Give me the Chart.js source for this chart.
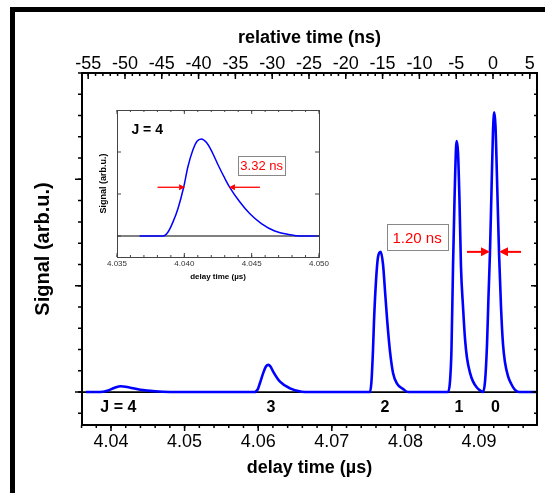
<!DOCTYPE html>
<html>
<head>
<meta charset="utf-8">
<script src="https://cdn.jsdelivr.net/npm/chart.js@4"></script>
<style>
  html, body { margin: 0; padding: 0; background: #fff; }
  #wrap { position: relative; width: 545px; height: 493px; overflow: hidden; }
  #frame { position: absolute; left: 10px; top: 7px; width: 600px; height: 600px;
           border-left: 5px solid #000; border-top: 5px solid #000; }
  #main { position: absolute; left: 0; top: 0; }
  #inset { position: absolute; left: 90px; top: 100px; }
</style>
</head>
<body>
<div id="wrap">
  <div id="frame"></div>
  <canvas id="main" width="545" height="493"></canvas>
  <canvas id="inset" width="240" height="185"></canvas>
</div>
<script>
// data
// main trace: delay time (µs) and signal (arb.u.)
const delayTime = [
  4.0366, 4.0385, 4.0395, 4.0405, 4.0413, 4.0425, 4.0440, 4.0460, 4.0480, 4.0500,
  4.0595, 4.05997, 4.06024, 4.06069, 4.06105, 4.06137, 4.06167, 4.06205, 4.06296, 4.06432, 4.06591, 4.0670,
  4.07519, 4.07539, 4.07560, 4.07573, 4.07601, 4.07628, 4.07664, 4.07696, 4.07723, 4.07754, 4.07791, 4.07832, 4.07886, 4.07967, 4.08035,
  4.08579, 4.08606, 4.08626, 4.08647, 4.08667, 4.08688, 4.08697, 4.08715, 4.08735, 4.08755, 4.08783, 4.08810, 4.08837, 4.08878, 4.08918, 4.08973, 4.09027,
  4.09054, 4.09082, 4.09109, 4.09129, 4.09149, 4.09170, 4.09190, 4.09208, 4.09224, 4.09245, 4.09272, 4.09299, 4.09326, 4.09353, 4.09394, 4.09435, 4.09489, 4.09543,
  4.0979
];
const signal = [
  0, 0, 0.012, 0.04, 0.055, 0.043, 0.022, 0.008, 0.001, 0,
  0, 0.03, 0.085, 0.18, 0.24, 0.255, 0.24, 0.19, 0.097, 0.035, 0.003, 0,
  0, 0.1, 0.4, 0.66, 1.05, 1.27, 1.318, 1.2, 0.95, 0.66, 0.38, 0.18, 0.08, 0.03, 0,
  0, 0.1, 0.4, 1.18, 1.8, 2.3, 2.36, 2.25, 1.8, 1.18, 0.8, 0.5, 0.32, 0.18, 0.1, 0.04, 0.01,
  0, 0.1, 0.45, 0.9, 1.31, 1.9, 2.45, 2.63, 2.5, 2.0, 1.31, 0.8, 0.45, 0.28, 0.15, 0.08, 0.02, 0,
  0
];
// inset: J = 4 peak
const insetTime = [4.03668, 4.03842, 4.03879, 4.03916, 4.03953, 4.03995, 4.04027, 4.04064, 4.04094, 4.04126, 4.04163,
  4.04200, 4.04250, 4.04300, 4.04337, 4.04411, 4.04485, 4.04572, 4.04671, 4.04782, 4.04857, 4.0500];
const insetSignal = [0, 0, 0.096, 0.336, 0.656, 1.16, 1.656, 2.056, 2.256, 2.312, 2.232,
  2.04, 1.696, 1.376, 1.16, 0.816, 0.536, 0.296, 0.12, 0.032, 0, 0];

// ticks and labels
const delayTicks = [4.04, 4.05, 4.06, 4.07, 4.08, 4.09];
const relTicks = [-55, -50, -45, -40, -35, -30, -25, -20, -15, -10, -5, 0, 5];
const insetTicks = [4.035, 4.040, 4.045, 4.050];
const peakNames = ['J = 4', '3', '2', '1', '0'];
const peakNameTime = [4.0410, 4.06174, 4.07723, 4.08728, 4.09224];
const fwhmMain = '1.20 ns';
const fwhmInset = '3.32 ns';

// axis ranges
const T0 = 4.0919;          // delay time at relative time 0
const X_MIN = 4.03606, X_MAX = 4.09788;
const FONT = "'Liberation Sans', Arial, sans-serif";

function steps(a, b, s) {
  const out = [];
  for (let v = a; v <= b + s / 1000; v += s) out.push(+v.toFixed(6));
  return out;
}

// draws tick marks along one edge
function tickMarks(ctx, scale, values, len, edge, dir) {
  ctx.beginPath();
  values.forEach(v => {
    const p = scale.getPixelForValue(v);
    if (scale.isHorizontal()) { ctx.moveTo(p, edge); ctx.lineTo(p, edge + dir * len); }
    else { ctx.moveTo(edge, p); ctx.lineTo(edge + dir * len, p); }
  });
  ctx.stroke();
}

function arrow(ctx, x1, x2, y, head, half, width) {
  const d = x2 > x1 ? 1 : -1;
  ctx.strokeStyle = '#ff0000';
  ctx.fillStyle = '#ff0000';
  ctx.lineWidth = width;
  ctx.beginPath();
  ctx.moveTo(x1, y);
  ctx.lineTo(x2 - d * head, y);
  ctx.stroke();
  ctx.beginPath();
  ctx.moveTo(x2, y);
  ctx.lineTo(x2 - d * head, y - half);
  ctx.lineTo(x2 - d * head, y + half);
  ctx.closePath();
  ctx.fill();
}

function boxLabel(ctx, text, cx, cy, w, h, size) {
  ctx.fillStyle = '#fff';
  ctx.fillRect(cx - w / 2, cy - h / 2, w, h);
  ctx.strokeStyle = '#888';
  ctx.lineWidth = 1;
  ctx.strokeRect(Math.round(cx - w / 2) + 0.5, Math.round(cy - h / 2) + 0.5, w, h);
  ctx.fillStyle = '#ff0000';
  ctx.font = size + 'px ' + FONT;
  ctx.textAlign = 'center';
  ctx.textBaseline = 'middle';
  ctx.fillText(text, cx, cy + 1);
}

const mainDecor = {
  id: 'mainDecor',
  afterDraw(chart) {
    const ctx = chart.ctx, a = chart.chartArea;
    const x = chart.scales.x, xt = chart.scales.xTop, y = chart.scales.y;
    ctx.save();
    ctx.strokeStyle = '#000';
    ctx.lineWidth = 2;
    ctx.beginPath();
    ctx.moveTo(a.right, a.top - 1);
    ctx.lineTo(a.right, a.bottom + 1);
    ctx.stroke();
    ctx.lineWidth = 1.5;
    tickMarks(ctx, x, delayTicks, 6, a.bottom, 1);
    tickMarks(ctx, x, steps(4.036, 4.096, 0.002), 3, a.bottom, 1);
    tickMarks(ctx, xt, relTicks, 6, a.top, 1);
    tickMarks(ctx, xt, steps(-55, 5, 1), 3, a.top, 1);
    tickMarks(ctx, y, [0, 1, 2], 7, a.left, -1);
    tickMarks(ctx, y, steps(-0.2, 3, 0.2), 4, a.left, -1);
    tickMarks(ctx, y, [0, 1, 2], 6, a.right, -1);
    tickMarks(ctx, y, steps(-0.2, 3, 0.2), 3, a.right, -1);

    // peak names
    ctx.fillStyle = '#000';
    ctx.font = 'bold 16px ' + FONT;
    ctx.textAlign = 'center';
    ctx.textBaseline = 'middle';
    peakNames.forEach((n, i) => ctx.fillText(n, x.getPixelForValue(peakNameTime[i]), y.getPixelForValue(-0.151)));

    // FWHM of J = 0
    boxLabel(ctx, fwhmMain, x.getPixelForValue(4.08158), y.getPixelForValue(1.454), 61, 26, 15);
    const ya = y.getPixelForValue(1.318);
    arrow(ctx, x.getPixelForValue(4.08837), x.getPixelForValue(4.09149), ya, 9, 4.5, 2);
    arrow(ctx, x.getPixelForValue(4.09571), x.getPixelForValue(4.09272), ya, 9, 4.5, 2);
    ctx.restore();
  }
};

const insetDecor = {
  id: 'insetDecor',
  afterDraw(chart) {
    const ctx = chart.ctx, a = chart.chartArea;
    const x = chart.scales.x, y = chart.scales.y;
    ctx.save();
    ctx.strokeStyle = '#444';
    ctx.lineWidth = 1;
    ctx.beginPath();
    ctx.moveTo(a.left, Math.round(a.top) + 0.5);
    ctx.lineTo(a.right, Math.round(a.top) + 0.5);
    ctx.moveTo(Math.round(a.right) + 0.5, a.top);
    ctx.lineTo(Math.round(a.right) + 0.5, a.bottom);
    ctx.stroke();
    tickMarks(ctx, x, insetTicks, 4, a.top, 1);
    tickMarks(ctx, x, steps(4.035, 4.050, 0.001), 2, a.top, 1);
    tickMarks(ctx, x, insetTicks, 4, a.bottom, -1);
    tickMarks(ctx, x, steps(4.035, 4.050, 0.001), 2, a.bottom, -1);
    tickMarks(ctx, y, [0, 1, 2], 4, a.left, 1);
    tickMarks(ctx, y, [0, 1, 2], 4, a.right, -1);

    ctx.fillStyle = '#000';
    ctx.font = 'bold 14px ' + FONT;
    ctx.textAlign = 'center';
    ctx.textBaseline = 'middle';
    ctx.fillText('J = 4', x.getPixelForValue(4.03724), y.getPixelForValue(2.52));

    boxLabel(ctx, fwhmInset, x.getPixelForValue(4.04574), y.getPixelForValue(1.674), 47, 19, 13);
    const ya = y.getPixelForValue(1.16);
    arrow(ctx, x.getPixelForValue(4.03801), x.getPixelForValue(4.04006), ya, 6, 3, 1.3);
    arrow(ctx, x.getPixelForValue(4.04561), x.getPixelForValue(4.04331), ya, 6, 3, 1.3);
    ctx.restore();
  }
};

function fixTicks(values) {
  return s => { s.ticks = values.map(v => ({ value: v })); };
}
function fixSize(w, h) {
  return s => {
    if (w !== null) s.width = w;
    if (h !== null) s.height = h;
    s.paddingLeft = 0; s.paddingRight = 0; s.paddingTop = 0; s.paddingBottom = 0;
  };
}

new Chart(document.getElementById('main'), {
  type: 'line',
  data: {
    datasets: [
      {
        data: delayTime.map((t, i) => ({ x: t, y: signal[i] })),
        borderColor: '#0000ff', borderWidth: 2.6, pointRadius: 0,
        cubicInterpolationMode: 'monotone', order: 0
      },
      {
        data: [{ x: X_MIN, y: 0 }, { x: X_MAX, y: 0 }],
        borderColor: '#000', borderWidth: 1.8, pointRadius: 0, order: 1
      }
    ]
  },
  options: {
    responsive: false,
    animation: false,
    events: [],
    layout: { padding: { left: 0, right: 8, top: 15, bottom: 0 } },
    plugins: { legend: { display: false }, tooltip: { enabled: false } },
    scales: {
      x: {
        type: 'linear', position: 'bottom', min: X_MIN, max: X_MAX,
        grid: { display: false, drawTicks: false },
        border: { display: true, color: '#000', width: 2 },
        afterBuildTicks: fixTicks(delayTicks),
        afterFit: fixSize(null, 68),
        ticks: {
          autoSkip: false, maxRotation: 0, minRotation: 0, padding: 6,
          color: '#000', font: { family: FONT, size: 18 },
          callback: v => v.toFixed(2)
        },
        title: {
          display: true, text: 'delay time (µs)', color: '#000',
          font: { family: FONT, size: 18, weight: 'bold' }, padding: { top: 0, bottom: 14 }
        }
      },
      xTop: {
        type: 'linear', axis: 'x', position: 'top',
        min: (X_MIN - T0) * 1000, max: (X_MAX - T0) * 1000,
        grid: { display: false, drawTicks: false },
        border: { display: true, color: '#000', width: 2 },
        afterBuildTicks: fixTicks(relTicks),
        afterFit: fixSize(null, 58),
        ticks: {
          autoSkip: false, maxRotation: 0, minRotation: 0, padding: -2,
          color: '#000', font: { family: FONT, size: 18 },
          callback: v => String(v)
        },
        title: {
          display: true, text: 'relative time (ns)', color: '#000',
          font: { family: FONT, size: 18, weight: 'bold' }, padding: { top: 12, bottom: 0 }
        }
      },
      y: {
        type: 'linear', position: 'left', min: -0.31, max: 3,
        grid: { display: false, drawTicks: false },
        border: { display: true, color: '#000', width: 2 },
        afterFit: fixSize(82, null),
        ticks: { display: false },
        title: {
          display: true, text: 'Signal (arb.u.)', color: '#000',
          font: { family: FONT, size: 20, weight: 'bold' }, padding: { top: 31, bottom: 0 }
        }
      }
    }
  },
  plugins: [mainDecor]
});

new Chart(document.getElementById('inset'), {
  type: 'line',
  data: {
    datasets: [
      {
        data: insetTime.map((t, i) => ({ x: t, y: insetSignal[i] })),
        borderColor: '#0000ff', borderWidth: 1.5, pointRadius: 0,
        cubicInterpolationMode: 'monotone', order: 0
      },
      {
        data: [{ x: 4.035, y: 0 }, { x: 4.050, y: 0 }],
        borderColor: '#000', borderWidth: 1, pointRadius: 0, order: 1
      }
    ]
  },
  options: {
    responsive: false,
    animation: false,
    events: [],
    layout: { padding: { left: 0, right: 11, top: 10, bottom: 0 } },
    plugins: { legend: { display: false }, tooltip: { enabled: false } },
    scales: {
      x: {
        type: 'linear', position: 'bottom', min: 4.035, max: 4.050,
        grid: { display: false, drawTicks: false },
        border: { display: true, color: '#444', width: 1 },
        afterBuildTicks: fixTicks(insetTicks),
        afterFit: fixSize(null, 28),
        ticks: {
          autoSkip: false, maxRotation: 0, minRotation: 0, padding: 2,
          color: '#333', font: { family: FONT, size: 8 },
          callback: v => v.toFixed(3)
        },
        title: {
          display: true, text: 'delay time (µs)', color: '#000',
          font: { family: FONT, size: 8, weight: 'bold' }, padding: { top: 0, bottom: 3 }
        }
      },
      y: {
        type: 'linear', position: 'left', min: -0.5, max: 3,
        grid: { display: false, drawTicks: false },
        border: { display: true, color: '#444', width: 1 },
        afterFit: fixSize(27, null),
        ticks: { display: false },
        title: {
          display: true, text: 'Signal (arb.u.)', color: '#000',
          font: { family: FONT, size: 9, weight: 'bold' }, padding: { top: 8, bottom: 0 }
        }
      }
    }
  },
  plugins: [insetDecor]
});
</script>
</body>
</html>
